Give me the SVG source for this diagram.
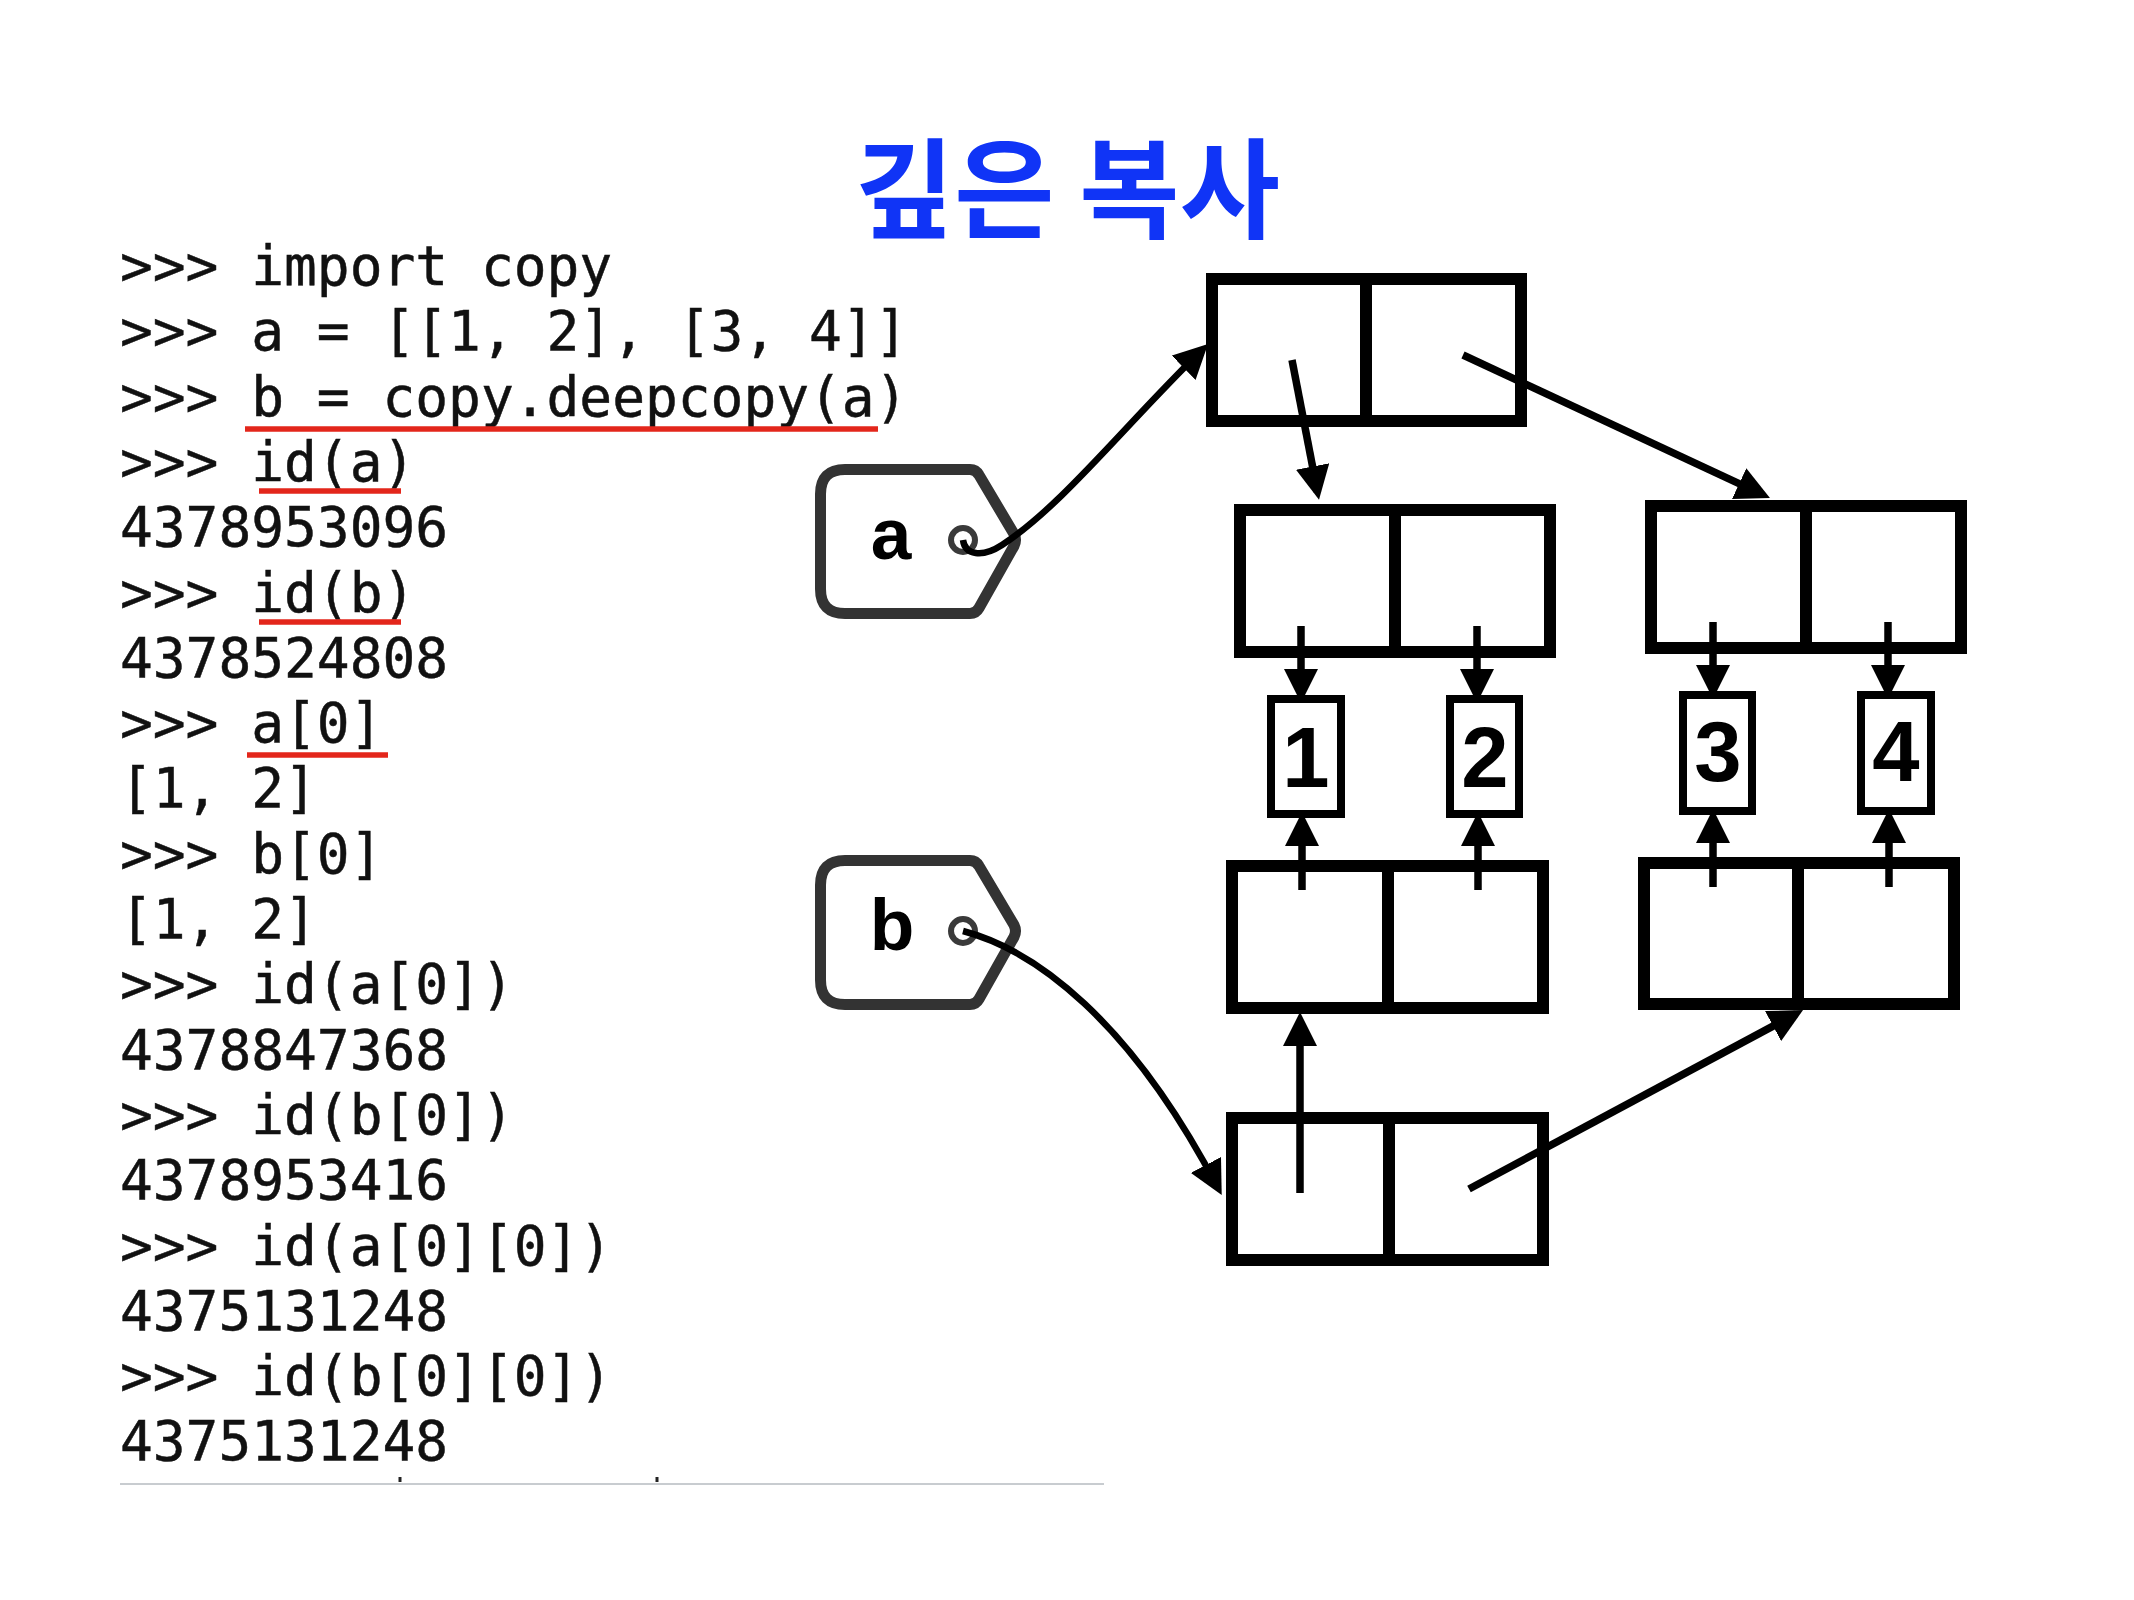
<svg xmlns="http://www.w3.org/2000/svg" width="2134" height="1600" viewBox="0 0 2134 1600">
<defs>
<style>
.code{font-family:"DejaVu Sans Mono","Liberation Mono",monospace;font-size:54.5px;fill:#111;stroke:#111;stroke-width:0.5;}
.title{font-family:"Noto Sans CJK KR","Noto Sans CJK SC",sans-serif;font-size:109px;font-weight:bold;fill:#1034f6;}
.tagl{font-family:"Liberation Sans",Arial,sans-serif;font-size:73px;font-weight:bold;fill:#000;}
.num{font-family:"Liberation Sans",Arial,sans-serif;font-size:85px;font-weight:bold;fill:#000;}
.ul{stroke:#e3261b;stroke-width:5.5;fill:none;}
.box{fill:#fff;stroke:#000;stroke-width:12;}
.div{stroke:#000;stroke-width:12;}
.sbox{fill:#fff;stroke:#000;stroke-width:8;}
.tag{fill:#fff;stroke:#333;stroke-width:11;stroke-linejoin:round;}
.hole{fill:#fff;stroke:#3a3a3a;stroke-width:6;}
.arr{stroke:#000;stroke-width:7.5;fill:none;marker-end:url(#ah);}
.crv{stroke:#000;stroke-width:6.5;fill:none;marker-end:url(#ah);}
</style>
<marker id="ah" markerUnits="userSpaceOnUse" markerWidth="34" markerHeight="34" viewBox="0 0 34 34" refX="26" refY="17" orient="auto"><path d="M0,0 L34,17 L0,34 Z" fill="#000"/></marker>
</defs>
<rect width="2134" height="1600" fill="#fff"/>

<text class="title" x="1067" y="230" text-anchor="middle">깊은 복사</text>

<g id="code">
<text class="code" x="120" y="285">&gt;&gt;&gt; import copy</text>
<text class="code" x="120" y="350.3">&gt;&gt;&gt; a = [[1, 2], [3, 4]]</text>
<text class="code" x="120" y="415.6">&gt;&gt;&gt; b = copy.deepcopy(a)</text>
<text class="code" x="120" y="480.9">&gt;&gt;&gt; id(a)</text>
<text class="code" x="120" y="546.2">4378953096</text>
<text class="code" x="120" y="611.5">&gt;&gt;&gt; id(b)</text>
<text class="code" x="120" y="676.8">4378524808</text>
<text class="code" x="120" y="742.1">&gt;&gt;&gt; a[0]</text>
<text class="code" x="120" y="807.4">[1, 2]</text>
<text class="code" x="120" y="872.7">&gt;&gt;&gt; b[0]</text>
<text class="code" x="120" y="938">[1, 2]</text>
<text class="code" x="120" y="1003.3">&gt;&gt;&gt; id(a[0])</text>
<text class="code" x="120" y="1068.6">4378847368</text>
<text class="code" x="120" y="1133.9">&gt;&gt;&gt; id(b[0])</text>
<text class="code" x="120" y="1199.2">4378953416</text>
<text class="code" x="120" y="1264.5">&gt;&gt;&gt; id(a[0][0])</text>
<text class="code" x="120" y="1329.8">4375131248</text>
<text class="code" x="120" y="1395.1">&gt;&gt;&gt; id(b[0][0])</text>
<text class="code" x="120" y="1460.4">4375131248</text>
<line x1="245" y1="429" x2="878" y2="429" class="ul"/>
<line x1="259" y1="491" x2="401" y2="491" class="ul"/>
<line x1="259" y1="622" x2="401" y2="622" class="ul"/>
<line x1="247" y1="755" x2="388" y2="755" class="ul"/>
<line x1="120" y1="1484" x2="1104" y2="1484" stroke="#c8ccd0" stroke-width="2"/>
<line x1="400" y1="1477" x2="400" y2="1482" stroke="#222" stroke-width="3"/>
<line x1="657" y1="1477" x2="657" y2="1482" stroke="#222" stroke-width="3"/>
</g>

<g id="tag-a">
<path class="tag" d="M845 469.5 L970 469.5 Q976 469.5 979 475 L1014 534 Q1017 540 1014 546 L979 608 Q976 613.5 970 613.5 L845 613.5 Q820.5 613.5 820.5 589 L820.5 494 Q820.5 469.5 845 469.5 Z"/>
<circle class="hole" cx="963" cy="540" r="12"/>
<text class="tagl" x="891" y="559" text-anchor="middle">a</text>
</g>
<g id="tag-b">
<path class="tag" transform="translate(0,391)" d="M845 469.5 L970 469.5 Q976 469.5 979 475 L1014 534 Q1017 540 1014 546 L979 608 Q976 613.5 970 613.5 L845 613.5 Q820.5 613.5 820.5 589 L820.5 494 Q820.5 469.5 845 469.5 Z"/>
<circle class="hole" cx="963" cy="931" r="12"/>
<text class="tagl" x="892" y="950" text-anchor="middle">b</text>
</g>

<g id="list-a">
<rect class="box" x="1212" y="279" width="309" height="142"/>
<line class="div" x1="1366" y1="279" x2="1366" y2="421"/>
</g>
<g id="list-a0">
<rect class="box" x="1240" y="510" width="310" height="142"/>
<line class="div" x1="1395" y1="510" x2="1395" y2="652"/>
</g>
<g id="list-a1">
<rect class="box" x="1651" y="506" width="310" height="142"/>
<line class="div" x1="1806" y1="506" x2="1806" y2="648"/>
</g>
<g id="list-b0">
<rect class="box" x="1232" y="866" width="311" height="142"/>
<line class="div" x1="1388" y1="866" x2="1388" y2="1008"/>
</g>
<g id="list-b1">
<rect class="box" x="1644" y="863" width="310" height="141"/>
<line class="div" x1="1798" y1="863" x2="1798" y2="1004"/>
</g>
<g id="list-b">
<rect class="box" x="1232" y="1118" width="311" height="142"/>
<line class="div" x1="1389" y1="1118" x2="1389" y2="1260"/>
</g>

<g id="int-1"><rect class="sbox" x="1271" y="699" width="70" height="115"/><text class="num" x="1306" y="787" text-anchor="middle">1</text></g>
<g id="int-2"><rect class="sbox" x="1450" y="699" width="69" height="115"/><text class="num" x="1485" y="787" text-anchor="middle">2</text></g>
<g id="int-3"><rect class="sbox" x="1683" y="695" width="69" height="116"/><text class="num" x="1718" y="781" text-anchor="middle">3</text></g>
<g id="int-4"><rect class="sbox" x="1861" y="695" width="70" height="116"/><text class="num" x="1896" y="781" text-anchor="middle">4</text></g>

<g id="connectors">
<path class="crv" d="M963 540 C965 555 982 558 1002 545 C1062 506 1125 425 1202.3 349.7"/>
<path class="crv" d="M963 931 C1035 950 1130 1020 1218 1188"/>
<line class="arr" x1="1292" y1="360" x2="1317.5" y2="492"/>
<line class="arr" x1="1463" y1="355" x2="1762.7" y2="494.6"/>
<line class="arr" x1="1301" y1="626" x2="1301" y2="695"/>
<line class="arr" x1="1477" y1="626" x2="1477" y2="695"/>
<line class="arr" x1="1713" y1="622" x2="1713" y2="691"/>
<line class="arr" x1="1888" y1="622" x2="1888" y2="691"/>
<line class="arr" x1="1302" y1="890" x2="1302" y2="820"/>
<line class="arr" x1="1478" y1="890" x2="1478" y2="820"/>
<line class="arr" x1="1713" y1="887" x2="1713" y2="817"/>
<line class="arr" x1="1889" y1="887" x2="1889" y2="817"/>
<line class="arr" x1="1300" y1="1193" x2="1300" y2="1020"/>
<line class="arr" x1="1469" y1="1189" x2="1796" y2="1013.8"/>
</g>
</svg>
